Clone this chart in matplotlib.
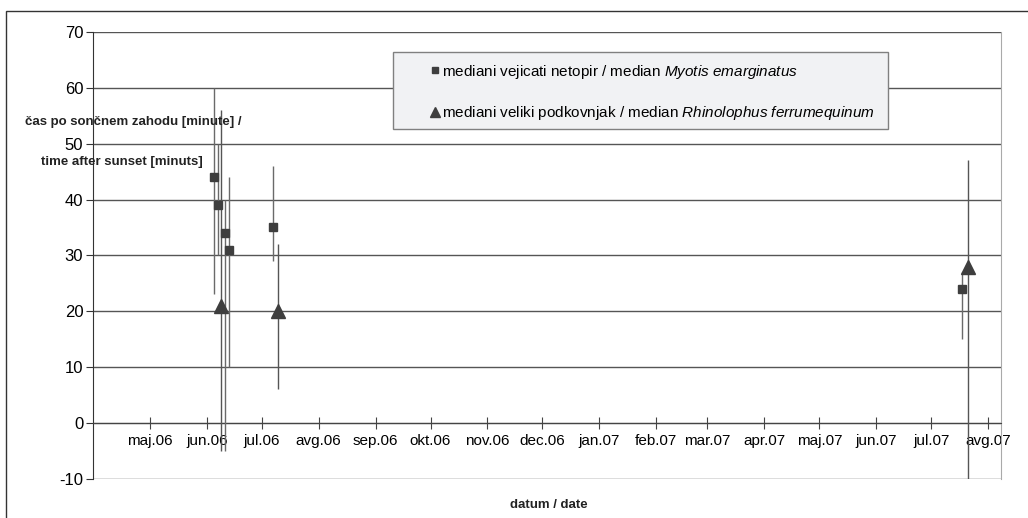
import matplotlib
matplotlib.use('Agg')
import matplotlib.pyplot as plt
import matplotlib.dates as mdates
from matplotlib.patches import Rectangle
import pandas as pd

plt.rcParams['font.family'] = ['Liberation Sans', 'DejaVu Sans']
plt.rcParams['mathtext.fontset'] = 'custom'
plt.rcParams['mathtext.it'] = 'Liberation Sans:italic'
plt.rcParams['mathtext.rm'] = 'Liberation Sans'
plt.rcParams['axes.unicode_minus'] = False

# Myotis emarginatus - median and range
myotis_dates = ['2006-06-05', '2006-06-07', '2006-06-11', '2006-06-13', '2006-07-07', '2007-07-18']
myotis_median = [44, 39, 34, 31, 35, 24]
myotis_low = [23, 30, -5, 10, 29, 15]
myotis_high = [60, 50, 40, 44, 46, 27]

# Rhinolophus ferrumequinum - median and range
rhino_dates = ['2006-06-09', '2006-07-10', '2007-07-21']
rhino_median = [21, 20, 28]
rhino_low = [-5, 6, -10]
rhino_high = [56, 32, 47]

month_names = ['jan', 'feb', 'mar', 'apr', 'maj', 'jun', 'jul', 'avg', 'sep', 'okt', 'nov', 'dec']

lab_myotis = 'mediani vejicati netopir / median $\\it{Myotis\\ emarginatus}$'
lab_rhino = 'mediani veliki podkovnjak / median $\\it{Rhinolophus\\ ferrumequinum}$'

md = pd.to_datetime(myotis_dates)
rd = pd.to_datetime(rhino_dates)

fig = plt.figure(figsize=(10.28, 5.18), dpi=100)
ax = fig.add_axes([0.0905, 0.0759, 0.8832, 0.8623])

line_col = '#6a6a6a'
mark_col = '#3e3e3e'

# error bars (range)
ax.vlines(md, myotis_low, myotis_high, color=line_col, lw=1.0, zorder=3)
ax.vlines(rd, rhino_low, rhino_high, color='#555555', lw=1.0, zorder=3)
# medians
ax.plot(md, myotis_median, 's', color=mark_col, ms=5.5, ls='none', zorder=4, label=lab_myotis)
ax.plot(rd, rhino_median, '^', color=mark_col, ms=10, ls='none', zorder=4, label=lab_rhino)

ax.set_ylim(-10, 70)
ax.set_yticks(range(-10, 71, 10))
ax.set_xlim(pd.Timestamp('2006-03-31'), pd.Timestamp('2007-08-08'))

ax.yaxis.grid(True, color='#555555', lw=1.0)
ax.set_axisbelow(True)

ticks = pd.date_range('2006-05-01', '2007-08-01', freq='MS')
ax.set_xticks(ticks)
ax.set_xticklabels([f'{month_names[t.month - 1]}.{t.year % 100:02d}' for t in ticks])

ax.spines['bottom'].set_position(('data', 0))
ax.spines['bottom'].set_color('#444444')
ax.spines['left'].set_color('#333333')
ax.spines['top'].set_visible(False)
ax.spines['right'].set_color('#aaaaaa')
ax.tick_params(axis='x', direction='inout', length=8, color='#444444', labelsize=11, pad=4)
ax.tick_params(axis='y', direction='out', length=5, color='#333333', labelsize=12, pad=2)

# legend box
ax.add_patch(Rectangle((0.330, 0.783), 0.5455, 0.173, transform=ax.transAxes,
                       facecolor='#f1f2f4', edgecolor='#808080', lw=1.0, zorder=5))
leg = ax.legend(loc='upper left', bbox_to_anchor=(0.356, 0.962), frameon=False,
                fontsize=11, handlelength=0.6, handletextpad=0.2, labelspacing=1.55)
leg.set_zorder(6)
for h, ms in zip(leg.legend_handles, [4.5, 7.5]):
    h.set_markersize(ms)

fig.text(0.1295, 0.765, 'čas po sončnem zahodu [minute] /', fontsize=9.5,
         fontweight='bold', ha='center', va='center', color='#222222')
fig.text(0.1185, 0.688, 'time after sunset [minuts]', fontsize=9.5,
         fontweight='bold', ha='center', va='center', color='#222222')
fig.text(0.5335, 0.025, 'datum / date', fontsize=9.5,
         fontweight='bold', ha='center', va='center', color='#222222')

# outer chart frame (cropped)
fig.add_artist(Rectangle((6 / 1028, -0.1), 1.2, (518 - 11) / 518 + 0.1,
                         transform=fig.transFigure, facecolor='none',
                         edgecolor='#333333', lw=1.0))

fig.savefig('out.png', dpi=100)
